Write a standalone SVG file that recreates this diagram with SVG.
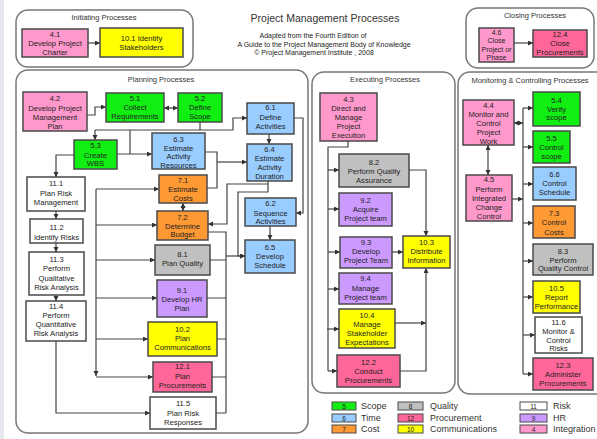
<svg xmlns="http://www.w3.org/2000/svg" width="597" height="439" viewBox="0 0 597 439">
<style>
text{font-family:"Liberation Sans",Arial,sans-serif;fill:#222}
.t{font-size:7.6px;text-anchor:middle}
.ct{font-size:7.5px;text-anchor:middle;fill:#333}
.box{stroke:#4a4a4a;stroke-width:1.5}
.cont{fill:#fff;stroke:#777;stroke-width:1.5}
.pk{fill:#FF99CC}.gr{fill:#11EE11}.bl{fill:#99CCFF}.or{fill:#FF9933}.gy{fill:#C0C0C0}
.pu{fill:#CC99FF}.ye{fill:#FFFF00}.ro{fill:#FF6699}.wh{fill:#FFFFFF}
#conn path{fill:none;stroke:#444;stroke-width:1.2}
.ar{marker-end:url(#ah)}
.ar2{marker-end:url(#ah);marker-start:url(#ah)}
.lg{font-size:9px;fill:#333}
.ln{font-size:6.5px;text-anchor:middle}
</style>
<defs>
<marker id="ah" markerUnits="userSpaceOnUse" markerWidth="6" markerHeight="6" refX="5" refY="2.5" orient="auto-start-reverse"><path d="M0,0 L5,2.5 L0,5 z" fill="#333"/></marker>
</defs>
<rect width="597" height="439" fill="#fff"/>
<rect x="0" y="0" width="4" height="439" fill="#e4e7ec"/>

<g id="title">
<text x="325" y="22" style="font-size:10.5px;text-anchor:middle;fill:#333">Project Management Processes</text>
<text x="313" y="37.5" style="font-size:7px;text-anchor:middle">Adapted from the Fourth Edition of</text>
<text x="324" y="46.5" style="font-size:7px;text-anchor:middle">A Guide to the Project Management Body of Knowledge</text>
<text x="314" y="55" style="font-size:7px;text-anchor:middle">© Project Management Institute , 2008</text>
</g>

<g id="containers">
<g id="initiating"><rect class="cont" x="16" y="10" width="177" height="57" rx="12"/><text class="ct" x="104" y="20">Initiating Processes</text></g>
<g id="closing"><rect class="cont" x="466" y="8" width="128" height="60" rx="12"/><text class="ct" x="535" y="18">Closing Processes</text></g>
<g id="planning"><rect class="cont" x="16" y="70" width="292" height="363" rx="12"/><text class="ct" x="161" y="82">Planning Processes</text></g>
<g id="executing"><rect class="cont" x="312" y="72" width="143" height="321" rx="12"/><text class="ct" x="385" y="82">Executing Processes</text></g>
<g id="monitoring"><rect class="cont" x="458" y="72" width="150" height="322" rx="12"/><text class="ct" x="530" y="83">Monitoring &amp; Controlling Processes</text></g>
</g>

<g id="conn">
<path class="ar" d="M88,43 H100"/>
<path class="ar" d="M514,43 H533"/>
<path class="ar" d="M87,115 H95 V107 H106"/>
<path class="ar2" d="M164,108 H178"/>
<path d="M200,122 V130"/>
<path class="ar" d="M95,130 H233 V118 H247"/>
<path class="ar" d="M95,130 V140"/>
<path d="M130,130 V154"/>
<path class="ar" d="M117,154 H152"/>
<path class="ar" d="M269,134 V144"/>
<path class="ar" d="M294,118 H303 V213 H296"/>
<path d="M205,152 H217 V188 H207"/>
<path class="ar" d="M217,162 H247"/>
<path class="ar" d="M268,181 V192 H238 V256 H245"/>
<path class="ar" d="M268,184 H227 V224 H208"/>
<path class="ar2" d="M183,203 V211"/>
<path class="ar" d="M270,226 V240"/>
<path class="ar" d="M96,189 V376"/>
<path class="ar" d="M96,189 H159"/>
<path class="ar" d="M96,225 H157"/>
<path class="ar" d="M96,260 H155"/>
<path class="ar" d="M96,298 H157"/>
<path class="ar" d="M96,339 H148"/>
<path class="ar" d="M96,377 H153"/>
<path class="ar" d="M56,211 V219"/>
<path class="ar" d="M56,243 V252"/>
<path class="ar" d="M56,295 V301"/>
<path class="ar" d="M74,155 H56 V177"/>
<path class="ar" d="M56,341 V413 H150"/>
<path d="M208,232 H226 V413"/>
<path d="M210,260 H226 M207,298 H226 M217,339 H226 M212,377 H226 M216,413 H226"/>
<path class="ar" d="M226,256 H245"/>
<path d="M348,141 V147 H328 V371"/>
<path class="ar" d="M328,170 H339"/>
<path class="ar" d="M328,209 H339"/>
<path class="ar" d="M328,252 H340"/>
<path class="ar" d="M328,289 H339"/>
<path class="ar" d="M327,329 H339"/>
<path class="ar" d="M328,371 H337"/>
<path class="ar" d="M409,170 H426 V236"/>
<path class="ar" d="M392,252 H403"/>
<path class="ar" d="M400,371 H426 V268"/>
<path class="ar" d="M395,323 H426"/>
<path d="M523,108 V374"/>
<path class="ar" d="M523,108 H533"/>
<path class="ar" d="M523,147 H533"/>
<path class="ar" d="M523,184 H533"/>
<path class="ar" d="M523,223 H533"/>
<path class="ar" d="M523,261 H533"/>
<path class="ar" d="M523,297 H533"/>
<path class="ar" d="M523,335 H535"/>
<path class="ar" d="M523,374 H533"/>
<path class="ar2" d="M514,123 H523"/>
<path class="ar" d="M512,199 H523"/>
<path class="ar2" d="M488,145 V175"/>
</g>

<g id="n4_1"><rect class="box pk" x="22" y="29" width="66" height="28"/><text class="t" x="55" y="37">4.1</text><text class="t" x="55" y="46">Develop Project</text><text class="t" x="55" y="55">Charter</text></g>
<g id="n10_1"><rect class="box ye" x="100" y="28" width="83" height="29"/><text class="t" x="141.5" y="41">10.1 Identify</text><text class="t" x="141.5" y="50">Stakeholders</text></g>
<g id="n4_6"><rect class="box pk" x="479" y="28" width="35" height="34"/><text class="t" x="496.5" y="35" style="font-size:7px">4.6</text><text class="t" x="496.5" y="43" style="font-size:7px">Close</text><text class="t" x="496.5" y="51.5" style="font-size:7px">Project or</text><text class="t" x="496.5" y="60" style="font-size:7px">Phase</text></g>
<g id="n12_4"><rect class="box ro" x="533" y="30" width="54" height="27"/><text class="t" x="560" y="36.5">12.4</text><text class="t" x="560" y="45.5">Close</text><text class="t" x="560" y="54.5">Procurements</text></g>

<g id="n4_2"><rect class="box pk" x="23" y="92" width="64" height="39"/><text class="t" x="55" y="101">4.2</text><text class="t" x="55" y="110.5">Develop Project</text><text class="t" x="55" y="119.5">Management</text><text class="t" x="55" y="128.5">Plan</text></g>
<g id="n5_1"><rect class="box gr" x="106" y="93" width="58" height="29"/><text class="t" x="135" y="101">5.1</text><text class="t" x="135" y="110">Collect</text><text class="t" x="135" y="119">Requirements</text></g>
<g id="n5_2"><rect class="box gr" x="178" y="93" width="44" height="29"/><text class="t" x="200" y="101">5.2</text><text class="t" x="200" y="110">Define</text><text class="t" x="200" y="119">Scope</text></g>
<g id="n6_1"><rect class="box bl" x="247" y="103" width="47" height="31"/><text class="t" x="270.5" y="110">6.1</text><text class="t" x="270.5" y="120">Define</text><text class="t" x="270.5" y="129">Activities</text></g>
<g id="n5_3"><rect class="box gr" x="74" y="140" width="43" height="29"/><text class="t" x="95.5" y="148">5.3</text><text class="t" x="95.5" y="157.5">Create</text><text class="t" x="95.5" y="166">WBS</text></g>
<g id="n6_3"><rect class="box bl" x="152" y="133" width="53" height="36"/><text class="t" x="178.5" y="142">6.3</text><text class="t" x="178.5" y="150.5">Estimate</text><text class="t" x="178.5" y="159">Activity</text><text class="t" x="178.5" y="167.5">Resources</text></g>
<g id="n6_4"><rect class="box bl" x="247" y="144" width="45" height="37"/><text class="t" x="269.5" y="152">6.4</text><text class="t" x="269.5" y="161">Estimate</text><text class="t" x="269.5" y="170">Activity</text><text class="t" x="269.5" y="179">Duration</text></g>
<g id="n7_1"><rect class="box or" x="159" y="175" width="48" height="28"/><text class="t" x="183" y="183">7.1</text><text class="t" x="183" y="192">Estimate</text><text class="t" x="183" y="201">Costs</text></g>
<g id="n7_2"><rect class="box or" x="157" y="211" width="51" height="29"/><text class="t" x="182.5" y="220">7.2</text><text class="t" x="182.5" y="228.5">Determine</text><text class="t" x="182.5" y="237">Budget</text></g>
<g id="n6_2"><rect class="box bl" x="245" y="198" width="51" height="28"/><text class="t" x="270.5" y="206">6.2</text><text class="t" x="270.5" y="215.5">Sequence</text><text class="t" x="270.5" y="224">Activities</text></g>
<g id="n6_5"><rect class="box bl" x="245" y="240" width="50" height="33"/><text class="t" x="270" y="250">6.5</text><text class="t" x="270" y="259">Develop</text><text class="t" x="270" y="268">Schedule</text></g>
<g id="n8_1"><rect class="box gy" x="155" y="245" width="55" height="30"/><text class="t" x="182.5" y="257">8.1</text><text class="t" x="182.5" y="266">Plan Quality</text></g>
<g id="n9_1"><rect class="box pu" x="157" y="280" width="50" height="37"/><text class="t" x="182" y="293">9.1</text><text class="t" x="182" y="302">Develop HR</text><text class="t" x="182" y="310.5">Plan</text></g>
<g id="n10_2"><rect class="box ye" x="148" y="322" width="69" height="34"/><text class="t" x="182.5" y="332">10.2</text><text class="t" x="182.5" y="341">Plan</text><text class="t" x="182.5" y="350">Communications</text></g>
<g id="n12_1"><rect class="box ro" x="153" y="362" width="59" height="30"/><text class="t" x="182.5" y="369">12.1</text><text class="t" x="182.5" y="379">Plan</text><text class="t" x="182.5" y="388">Procurements</text></g>
<g id="n11_5"><rect class="box wh" x="150" y="397" width="66" height="32"/><text class="t" x="183" y="406">11.5</text><text class="t" x="183" y="416">Plan Risk</text><text class="t" x="183" y="425">Responses</text></g>
<g id="n11_1"><rect class="box wh" x="27" y="177" width="58" height="34"/><text class="t" x="56" y="186">11.1</text><text class="t" x="56" y="195.5">Plan Risk</text><text class="t" x="56" y="205">Management</text></g>
<g id="n11_2"><rect class="box wh" x="30" y="219" width="53" height="24"/><text class="t" x="56.5" y="230">11.2</text><text class="t" x="56.5" y="240">Identify Risks</text></g>
<g id="n11_3"><rect class="box wh" x="29" y="252" width="55" height="43"/><text class="t" x="56.5" y="262">11.3</text><text class="t" x="56.5" y="271">Perform</text><text class="t" x="56.5" y="280.5">Qualitative</text><text class="t" x="56.5" y="290">Risk Analysis</text></g>
<g id="n11_4"><rect class="box wh" x="26" y="301" width="60" height="40"/><text class="t" x="56" y="309">11.4</text><text class="t" x="56" y="318">Perform</text><text class="t" x="56" y="327">Quantitative</text><text class="t" x="56" y="336">Risk Analysis</text></g>

<g id="n4_3"><rect class="box pk" x="320" y="93" width="57" height="48"/><text class="t" x="348.5" y="102">4.3</text><text class="t" x="348.5" y="111">Direct and</text><text class="t" x="348.5" y="120">Manage</text><text class="t" x="348.5" y="129">Project</text><text class="t" x="348.5" y="137.5">Execution</text></g>
<g id="n8_2"><rect class="box gy" x="339" y="154" width="70" height="33"/><text class="t" x="374" y="165">8.2</text><text class="t" x="374" y="174">Perform Quality</text><text class="t" x="374" y="182.5">Assurance</text></g>
<g id="n9_2"><rect class="box pu" x="339" y="193" width="53" height="33"/><text class="t" x="365.5" y="203">9.2</text><text class="t" x="365.5" y="212">Acquire</text><text class="t" x="365.5" y="221">Project team</text></g>
<g id="n9_3"><rect class="box pu" x="340" y="237" width="52" height="31"/><text class="t" x="366" y="245">9.3</text><text class="t" x="366" y="254">Develop</text><text class="t" x="366" y="263">Project Team</text></g>
<g id="n10_3"><rect class="box ye" x="403" y="236" width="47" height="32"/><text class="t" x="426.5" y="245">10.3</text><text class="t" x="426.5" y="254">Distribute</text><text class="t" x="426.5" y="263">Information</text></g>
<g id="n9_4"><rect class="box pu" x="339" y="273" width="53" height="31"/><text class="t" x="365.5" y="281">9.4</text><text class="t" x="365.5" y="290.5">Manage</text><text class="t" x="365.5" y="300">Project team</text></g>
<g id="n10_4"><rect class="box ye" x="339" y="309" width="56" height="39"/><text class="t" x="367" y="318">10.4</text><text class="t" x="367" y="327">Manage</text><text class="t" x="367" y="336">Stakeholder</text><text class="t" x="367" y="345">Expectations</text></g>
<g id="n12_2"><rect class="box ro" x="337" y="355" width="63" height="32"/><text class="t" x="368.5" y="365">12.2</text><text class="t" x="368.5" y="373.5">Conduct</text><text class="t" x="368.5" y="382.5">Procurements</text></g>

<g id="n4_4"><rect class="box pk" x="463" y="100" width="51" height="45"/><text class="t" x="488.5" y="107.5">4.4</text><text class="t" x="488.5" y="116.5">Monitor and</text><text class="t" x="488.5" y="125.5">Control</text><text class="t" x="488.5" y="134.5">Project</text><text class="t" x="488.5" y="143.5">Work</text></g>
<g id="n4_5"><rect class="box pk" x="466" y="175" width="46" height="46"/><text class="t" x="489" y="182">4.5</text><text class="t" x="489" y="192">Perform</text><text class="t" x="489" y="201">Integrated</text><text class="t" x="489" y="210">Change</text><text class="t" x="489" y="219">Control</text></g>
<g id="n5_4"><rect class="box gr" x="533" y="92" width="47" height="34"/><text class="t" x="556.5" y="103">5.4</text><text class="t" x="556.5" y="111.5">Verify</text><text class="t" x="556.5" y="120">scope</text></g>
<g id="n5_5"><rect class="box gr" x="533" y="131" width="37" height="32"/><text class="t" x="551.5" y="141">5.5</text><text class="t" x="551.5" y="150">Control</text><text class="t" x="551.5" y="159">scope</text></g>
<g id="n6_6"><rect class="box bl" x="533" y="167" width="43" height="33"/><text class="t" x="554.5" y="177">6.6</text><text class="t" x="554.5" y="186">Control</text><text class="t" x="554.5" y="195">Schedule</text></g>
<g id="n7_3"><rect class="box or" x="533" y="206" width="42" height="32"/><text class="t" x="554" y="216">7.3</text><text class="t" x="554" y="225">Control</text><text class="t" x="554" y="234.5">Costs</text></g>
<g id="n8_3"><rect class="box gy" x="533" y="244" width="60" height="31"/><text class="t" x="563" y="254">8.3</text><text class="t" x="563" y="262.5">Perform</text><text class="t" x="563" y="271">Quality Control</text></g>
<g id="n10_5"><rect class="box ye" x="533" y="281" width="47" height="32"/><text class="t" x="556.5" y="291">10.5</text><text class="t" x="556.5" y="300">Report</text><text class="t" x="556.5" y="309">Performance</text></g>
<g id="n11_6"><rect class="box wh" x="535" y="317" width="47" height="36"/><text class="t" x="558.5" y="325">11.6</text><text class="t" x="558.5" y="334">Monitor &amp;</text><text class="t" x="558.5" y="342.5">Control</text><text class="t" x="558.5" y="351">Risks</text></g>
<g id="n12_3"><rect class="box ro" x="533" y="358" width="60" height="32"/><text class="t" x="563" y="368">12.3</text><text class="t" x="563" y="377">Administer</text><text class="t" x="563" y="386">Procurements</text></g>

<g id="legend">
<rect class="box gr" x="332" y="402" width="24" height="8" style="stroke-width:1"/><text class="ln" x="344" y="408.5">5</text><text class="lg" x="361" y="409">Scope</text>
<rect class="box bl" x="332" y="414" width="24" height="8" style="stroke-width:1"/><text class="ln" x="344" y="420.5">6</text><text class="lg" x="361" y="421">Time</text>
<rect class="box or" x="332" y="425" width="24" height="8" style="stroke-width:1"/><text class="ln" x="344" y="431.5">7</text><text class="lg" x="361" y="432">Cost</text>
<rect class="box gy" x="398" y="402" width="25" height="8" style="stroke-width:1"/><text class="ln" x="410.5" y="408.5">8</text><text class="lg" x="430" y="409">Quality</text>
<rect class="box ro" x="398" y="414" width="25" height="8" style="stroke-width:1"/><text class="ln" x="410.5" y="420.5">12</text><text class="lg" x="430" y="421">Procurement</text>
<rect class="box ye" x="398" y="425" width="25" height="8" style="stroke-width:1"/><text class="ln" x="410.5" y="431.5">10</text><text class="lg" x="430" y="432">Communications</text>
<rect class="box wh" x="520" y="402" width="27" height="8" style="stroke-width:1"/><text class="ln" x="533.5" y="408.5">11</text><text class="lg" x="553" y="409">Risk</text>
<rect class="box pu" x="520" y="414" width="27" height="8" style="stroke-width:1"/><text class="ln" x="533.5" y="420.5">9</text><text class="lg" x="553" y="421">HR</text>
<rect class="box pk" x="520" y="425" width="27" height="8" style="stroke-width:1"/><text class="ln" x="533.5" y="431.5">4</text><text class="lg" x="553" y="432">Integration</text>
</g>
</svg>
